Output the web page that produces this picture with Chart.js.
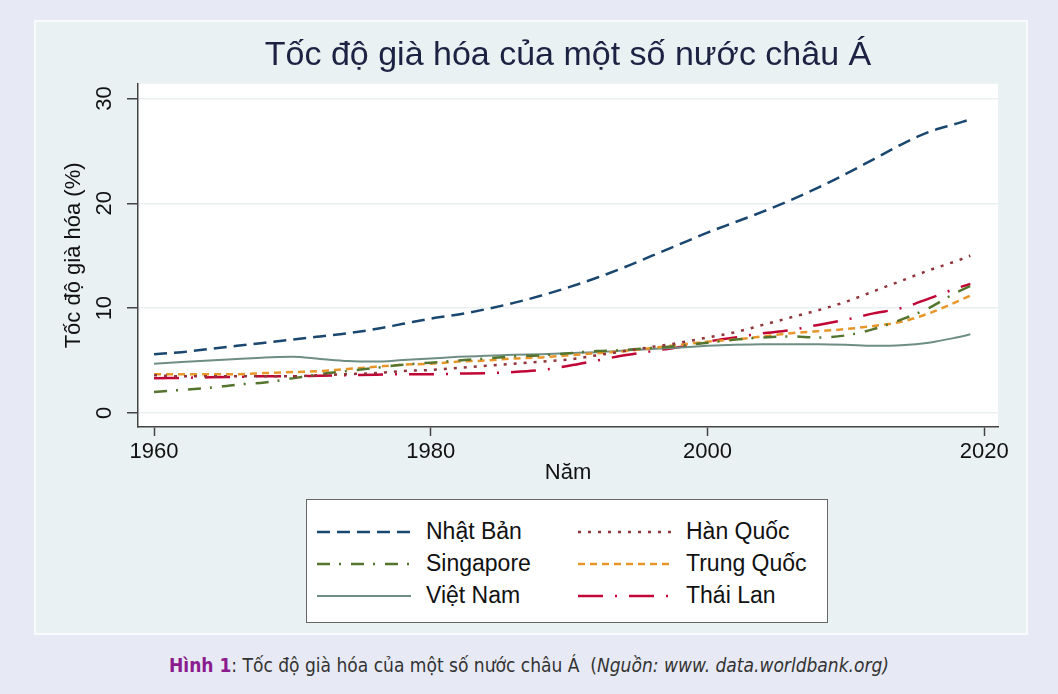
<!DOCTYPE html>
<html>
<head>
<meta charset="utf-8">
<script src="https://cdn.jsdelivr.net/npm/chart.js@4"></script>
<style>
  html, body { margin: 0; padding: 0; }
  body { width: 1058px; height: 694px; background: #e7eaf4; position: relative; overflow: hidden; font-family: "Liberation Sans", Arial, sans-serif; }
  #panel { position: absolute; left: 36px; top: 22px; width: 990px; height: 611px; background: #eaf1f3; outline: 2px solid #f8fafb; }
  #chartBox { position: absolute; left: 0; top: 0; width: 990px; height: 475px; }
  #legend { position: absolute; left: 270px; top: 477px; width: 522px; height: 124px; background: #fff; border: 1.5px solid #666; box-sizing: border-box; }
  .item { position: absolute; height: 30px; font-size: 23px; color: #111; line-height: 30px; }
  .item canvas { position: absolute; top: 13px; }
  .item span { position: absolute; white-space: nowrap; }
  #caption { position: absolute; left: 0; width: 1058px; top: 654px; text-align: center; font-family: "Liberation Sans Narrow", "DejaVu Sans Condensed", sans-serif; font-size: 19px; color: #333; }
  #caption b { color: #8b1b8f; }
</style>
</head>
<body>
<div id="panel">
  <div id="chartBox"><canvas id="graficoGiaHoa"></canvas></div>
  <div id="legend"></div>
</div>
<div id="caption"><b>Hình 1</b>: Tốc độ già hóa của một số nước châu Á &nbsp;(<i>Nguồn: www. data.worldbank.org)</i></div>

<script>
// số liệu (% dân số 65+)
const nam = [1960, 1962, 1964, 1966, 1968, 1970, 1972, 1974, 1976, 1978, 1980, 1982, 1984, 1986, 1988,
  1990, 1992, 1994, 1996, 1998, 2000, 2002, 2004, 2006, 2008, 2010, 2012, 2014, 2016, 2018, 2019];
const nhatBan = [5.6, 5.8, 6.1, 6.4, 6.7, 7.0, 7.3, 7.6, 8.0, 8.5, 9.0, 9.4, 9.9, 10.5, 11.2,
  12.0, 12.9, 13.9, 15.0, 16.1, 17.2, 18.2, 19.2, 20.3, 21.5, 22.8, 24.2, 25.6, 26.8, 27.6, 28.0];
const hanQuoc = [3.6, 3.5, 3.5, 3.5, 3.5, 3.5, 3.6, 3.7, 3.8, 4.0, 4.1, 4.3, 4.5, 4.7, 4.9,
  5.1, 5.5, 5.9, 6.3, 6.7, 7.2, 7.7, 8.4, 9.1, 9.8, 10.6, 11.6, 12.6, 13.6, 14.5, 15.0];
const singapore = [2.0, 2.2, 2.4, 2.7, 2.9, 3.3, 3.7, 4.0, 4.3, 4.6, 4.8, 5.0, 5.2, 5.4, 5.5,
  5.7, 5.9, 6.0, 6.2, 6.4, 6.7, 7.0, 7.2, 7.3, 7.2, 7.4, 8.0, 8.9, 10.0, 11.5, 12.1];
const trungQuoc = [3.7, 3.7, 3.7, 3.7, 3.8, 3.9, 4.0, 4.2, 4.4, 4.6, 4.7, 4.9, 5.0, 5.2, 5.3,
  5.5, 5.7, 5.9, 6.2, 6.5, 6.8, 7.0, 7.3, 7.6, 7.8, 8.0, 8.3, 8.7, 9.5, 10.6, 11.2];
const vietNam = [4.7, 4.85, 5.0, 5.15, 5.3, 5.35, 5.15, 4.95, 4.9, 5.05, 5.2, 5.35, 5.45, 5.55, 5.6,
  5.7, 5.8, 5.95, 6.1, 6.25, 6.4, 6.5, 6.55, 6.55, 6.55, 6.5, 6.4, 6.45, 6.7, 7.2, 7.5];
const thaiLan = [3.3, 3.35, 3.4, 3.45, 3.5, 3.5, 3.55, 3.6, 3.65, 3.7, 3.7, 3.75, 3.8, 3.9, 4.1,
  4.5, 5.0, 5.5, 5.9, 6.3, 6.8, 7.2, 7.6, 7.9, 8.4, 8.9, 9.5, 10.0, 10.9, 11.9, 12.3];

const nhanX = [1960, 1980, 2000, 2020];
const nhanY = [0, 10, 20, 30];

const duongKe = [
  { label: "Nhật Bản", data: nhatBan, color: "#1a476f", dash: [13, 7], width: 2.5 },
  { label: "Hàn Quốc", data: hanQuoc, color: "#90353b", dash: [3, 7], width: 2.5 },
  { label: "Singapore", data: singapore, color: "#55752f", dash: [13, 9, 2, 10], width: 2.5 },
  { label: "Trung Quốc", data: trungQuoc, color: "#e8962a", dash: [7, 5], width: 2.5 },
  { label: "Việt Nam", data: vietNam, color: "#6e8e84", dash: [], width: 2 },
  { label: "Thái Lan", data: thaiLan, color: "#c10534", dash: [25, 12, 2, 12], width: 2.5 },
];

const nenTrang = {
  id: "nenTrang",
  beforeDraw(chart) {
    const a = chart.chartArea;
    chart.ctx.save();
    chart.ctx.fillStyle = "#ffffff";
    chart.ctx.fillRect(a.left, a.top, a.right - a.left, a.bottom - a.top);
    chart.ctx.restore();
  },
};

const phong = "'Liberation Sans', Arial, sans-serif";

new Chart(document.getElementById("graficoGiaHoa"), {
  type: "line",
  data: {
    datasets: duongKe.map((d) => ({
      label: d.label,
      data: nam.map((x, i) => ({ x: x, y: d.data[i] })),
      borderColor: d.color,
      backgroundColor: d.color,
      borderDash: d.dash,
      borderWidth: d.width,
      pointRadius: 0,
      cubicInterpolationMode: "monotone",
      fill: false,
    })),
  },
  options: {
    responsive: true,
    maintainAspectRatio: false,
    animation: false,
    layout: { padding: { left: 0, right: 28, top: 0, bottom: 0 } },
    plugins: {
      legend: { display: false },
      tooltip: { enabled: false },
      title: {
        display: true,
        fullSize: false,
        text: "Tốc độ già hóa của một số nước châu Á",
        color: "#1c2242",
        font: { family: phong, size: 34, weight: "normal" },
        padding: { top: 13, bottom: 8 },
      },
    },
    scales: {
      x: {
        type: "linear",
        min: 1958.84,
        max: 2021.0,
        afterBuildTicks: (s) => { s.ticks = nhanX.map((v) => ({ value: v })); },
        afterFit: (s) => { s.height = 70; },
        border: { color: "#444", width: 1.5 },
        grid: { drawOnChartArea: false, drawTicks: true, tickLength: 9, tickColor: "#444", tickWidth: 1.5 },
        ticks: { color: "#111", font: { family: phong, size: 22 }, padding: 3, maxRotation: 0, callback: (v) => String(v) },
        title: { display: true, text: "Năm", color: "#111", font: { family: phong, size: 22 }, padding: { top: 0, bottom: 11 } },
      },
      y: {
        min: -1.34,
        max: 31.4,
        afterBuildTicks: (s) => { s.ticks = nhanY.map((v) => ({ value: v })); },
        afterFit: (s) => { s.width = 102; },
        border: { color: "#444", width: 1.5 },
        grid: { color: "#e8f0f2", lineWidth: 1.5, drawTicks: true, tickLength: 11, tickColor: "#444", tickWidth: 1.5 },
        ticks: { color: "#111", font: { family: phong, size: 22 }, padding: 10, minRotation: 90, maxRotation: 90, crossAlign: "center", callback: (v) => String(v) },
        title: { display: true, text: "Tốc độ già hóa (%)", color: "#111", font: { family: phong, size: 22 }, padding: { top: 25, bottom: 0 } },
      },
    },
  },
  plugins: [nenTrang],
});

// chú giải: 2 cột x 3 hàng
const legend = document.getElementById("legend");
const viTriCot = [{ line: 10, text: 119 }, { line: 271, text: 379 }];
duongKe.forEach((d, i) => {
  const cot = i % 2, hang = Math.floor(i / 2);
  const item = document.createElement("div");
  item.className = "item";
  item.style.left = "0px";
  item.style.top = (16 + hang * 32) + "px";
  const c = document.createElement("canvas");
  c.width = 94; c.height = 6;
  c.style.left = viTriCot[cot].line + "px";
  const ctx = c.getContext("2d");
  ctx.strokeStyle = d.color;
  ctx.lineWidth = d.width;
  ctx.setLineDash(d.dash);
  ctx.beginPath(); ctx.moveTo(0, 3); ctx.lineTo(94, 3); ctx.stroke();
  const t = document.createElement("span");
  t.textContent = d.label;
  t.style.left = viTriCot[cot].text + "px";
  item.appendChild(c);
  item.appendChild(t);
  legend.appendChild(item);
});
</script>
</body>
</html>
